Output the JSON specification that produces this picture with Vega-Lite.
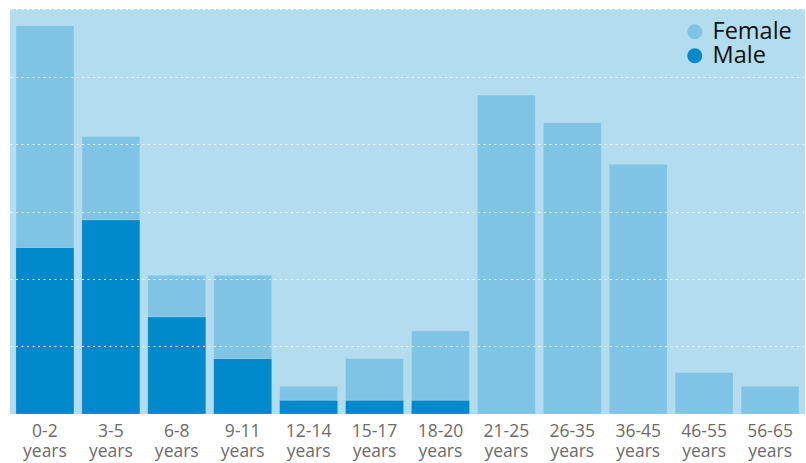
{
  "$schema": "https://vega.github.io/schema/vega-lite/v6.json",
  "autosize": "none",
  "width": 795,
  "height": 405,
  "padding": {"left": 10, "top": 9, "right": 1, "bottom": 49},
  "background": "#ffffff",
  "config": {
    "font": "Open Sans",
    "view": {"fill": "#b3dcee", "stroke": null}
  },
  "data": {
    "values": [
      {"age": "0-2 years", "sex": "Male", "count": 12},
      {"age": "0-2 years", "sex": "Female", "count": 16},
      {"age": "3-5 years", "sex": "Male", "count": 14},
      {"age": "3-5 years", "sex": "Female", "count": 6},
      {"age": "6-8 years", "sex": "Male", "count": 7},
      {"age": "6-8 years", "sex": "Female", "count": 3},
      {"age": "9-11 years", "sex": "Male", "count": 4},
      {"age": "9-11 years", "sex": "Female", "count": 6},
      {"age": "12-14 years", "sex": "Male", "count": 1},
      {"age": "12-14 years", "sex": "Female", "count": 1},
      {"age": "15-17 years", "sex": "Male", "count": 1},
      {"age": "15-17 years", "sex": "Female", "count": 3},
      {"age": "18-20 years", "sex": "Male", "count": 1},
      {"age": "18-20 years", "sex": "Female", "count": 5},
      {"age": "21-25 years", "sex": "Male", "count": 0},
      {"age": "21-25 years", "sex": "Female", "count": 23},
      {"age": "26-35 years", "sex": "Male", "count": 0},
      {"age": "26-35 years", "sex": "Female", "count": 21},
      {"age": "36-45 years", "sex": "Male", "count": 0},
      {"age": "36-45 years", "sex": "Female", "count": 18},
      {"age": "46-55 years", "sex": "Male", "count": 0},
      {"age": "46-55 years", "sex": "Female", "count": 3},
      {"age": "56-65 years", "sex": "Male", "count": 0},
      {"age": "56-65 years", "sex": "Female", "count": 2}
    ]
  },
  "mark": {"type": "bar", "stroke": "#ffffff", "strokeOpacity": 0.15, "strokeWidth": 1},
  "encoding": {
    "x": {
      "field": "age",
      "type": "nominal",
      "sort": null,
      "scale": {"paddingInner": 0.12, "paddingOuter": 0.09},
      "axis": {
        "title": null,
        "labelAngle": 0,
        "labelExpr": "split(datum.label, ' ')",
        "labelFontSize": 17.5,
        "labelColor": "#6b6b6b",
        "labelLineHeight": 20,
        "labelPadding": 8,
        "ticks": false,
        "domain": false,
        "grid": false
      }
    },
    "y": {
      "field": "count",
      "type": "quantitative",
      "stack": "zero",
      "scale": {"domain": [0, 29.2], "nice": false},
      "axis": {
        "title": null,
        "labels": false,
        "ticks": false,
        "domain": false,
        "grid": true,
        "gridColor": "#ffffff",
        "gridOpacity": 0.85,
        "gridWidth": 1.2,
        "gridDash": [2, 3.5],
        "values": [0, 4.8667, 9.7333, 14.6, 19.4667, 24.3333, 29.2],
        "zindex": 1
      }
    },
    "color": {
      "field": "sex",
      "type": "nominal",
      "scale": {"domain": ["Female", "Male"], "range": ["#80c4e5", "#0089cb"]},
      "legend": {
        "title": null,
        "orient": "none",
        "legendX": 673,
        "legendY": 11,
        "symbolType": "circle",
        "symbolSize": 225,
        "symbolStrokeWidth": 0,
        "labelFontSize": 23.5,
        "labelColor": "#111111",
        "labelOffset": 6,
        "rowPadding": -2
      }
    },
    "order": {"field": "sex", "sort": "descending"}
  }
}
